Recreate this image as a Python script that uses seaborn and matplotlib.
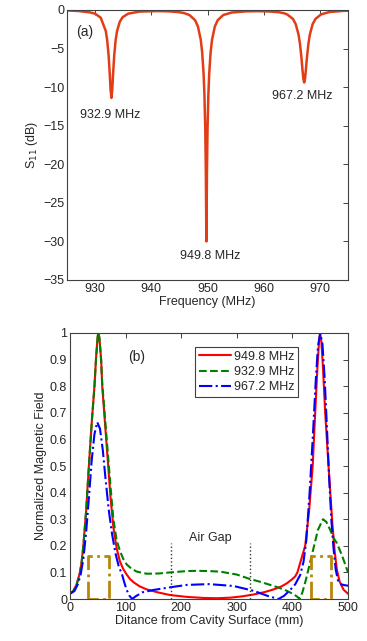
import numpy as np
import pandas as pd
import matplotlib
matplotlib.use('Agg')
import matplotlib.pyplot as plt
import seaborn as sns

# (a) S11 versus frequency
freq = [925, 927, 929, 930, 931, 931.9, 932.15, 932.4, 932.6, 932.75, 932.9,
        933.05, 933.2, 933.4, 933.65, 933.9, 934.4, 934.9, 935.9, 937.9, 941,
        943, 944.8, 945.8, 946.8, 947.8, 948.3, 948.8, 949.05, 949.3, 949.45,
        949.6, 949.7, 949.75, 949.8, 949.85, 949.9, 950.0, 950.15, 950.3,
        950.55, 950.8, 951.3, 951.8, 952.8, 954.3, 956.8, 959, 961, 962.7,
        963.7, 964.2, 965.2, 965.7, 966.2, 966.45, 966.7, 966.9, 967.05, 967.2,
        967.35, 967.5, 967.7, 967.95, 968.2, 968.7, 969.2, 970.2, 971.7, 974.2, 975]
s11 = [-0.05, -0.13, -0.3, -0.48, -1.0, -2.73, -3.92, -5.88, -8.27, -10.34, -11.4,
       -10.34, -8.27, -5.88, -3.92, -2.74, -1.5, -0.93, -0.47, -0.21, -0.14,
       -0.17, -0.27, -0.39, -0.66, -1.33, -2.15, -3.87, -5.5, -8.27, -11.0,
       -15.5, -21.0, -25.6, -30.0, -25.6, -21.0, -15.5, -11.0, -8.27,
       -5.5, -3.87, -2.15, -1.33, -0.65, -0.33, -0.18, -0.15, -0.19, -0.29,
       -0.44, -0.59, -1.16, -1.84, -3.21, -4.39, -6.09, -7.77, -8.91, -9.4,
       -8.91, -7.77, -6.09, -4.39, -3.21, -1.84, -1.16, -0.57, -0.26, -0.11, -0.09]

dip_freq = [932.9, 949.8, 967.2]
dip_labels = ['932.9 MHz', '949.8 MHz', '967.2 MHz']

# (b) normalized magnetic field versus distance
x_949 = [0, 6, 12, 18, 21, 24, 29, 34, 39, 44, 47, 50, 51, 53, 56, 58, 63, 68,
         73, 78, 84, 90, 96, 102, 108, 115, 125, 138, 160, 180, 210, 240, 265,
         288, 310, 330, 350, 366, 380, 390, 400, 405, 409, 416, 423, 430, 436.5,
         441, 445, 448, 450, 452, 455, 459, 465, 472, 476, 480, 485, 492, 500]
h_949 = [0.02, 0.03, 0.055, 0.1, 0.14, 0.2, 0.33, 0.5, 0.66, 0.8, 0.91, 0.99,
         1.0, 0.98, 0.9, 0.8, 0.66, 0.52, 0.38, 0.27, 0.19, 0.14, 0.112, 0.092,
         0.075, 0.062, 0.048, 0.036, 0.024, 0.015, 0.008, 0.004, 0.003, 0.005,
         0.01, 0.017, 0.026, 0.036, 0.047, 0.059, 0.075, 0.085, 0.1, 0.15, 0.2,
         0.33, 0.5, 0.7, 0.87, 0.97, 1.0, 0.97, 0.87, 0.7, 0.5, 0.28, 0.18,
         0.11, 0.065, 0.035, 0.02]

x_932 = [0, 6, 12, 18, 21, 24, 29, 34, 39, 44, 47, 50, 51, 53, 56, 58, 63, 68,
         73, 78, 84, 90, 96, 102, 110, 120, 138, 160, 180, 210, 228, 250, 270,
         300, 324, 345, 360, 375, 390, 400, 408, 413, 418, 424, 431, 439, 446,
         455, 461, 468, 474, 480, 489, 495, 500]
h_932 = [0.02, 0.03, 0.055, 0.1, 0.14, 0.2, 0.33, 0.5, 0.66, 0.8, 0.91, 0.99,
         1.0, 0.98, 0.9, 0.81, 0.68, 0.55, 0.42, 0.3, 0.22, 0.18, 0.15, 0.13,
         0.115, 0.103, 0.095, 0.096, 0.1, 0.105, 0.106, 0.105, 0.103, 0.092,
         0.075, 0.063, 0.053, 0.043, 0.031, 0.02, 0.01, 0.0, 0.025, 0.07, 0.13,
         0.2, 0.26, 0.3, 0.29, 0.26, 0.23, 0.21, 0.165, 0.13, 0.1]

x_967 = [0, 8, 14, 19, 24, 29, 34, 39, 44, 49, 54, 59, 64, 70, 76, 82, 88, 93,
         98, 102, 107, 112, 118, 130, 150, 180, 210, 250, 294, 330, 355, 375,
         385, 396, 405, 414, 420, 425, 431, 437, 442, 446, 450, 454, 458, 462,
         466, 470, 474, 478, 482, 488, 494, 500]
h_967 = [0.02, 0.03, 0.055, 0.09, 0.15, 0.25, 0.38, 0.52, 0.62, 0.665, 0.64,
         0.56, 0.45, 0.33, 0.24, 0.17, 0.12, 0.097, 0.06, 0.034, 0.012, 0.0,
         0.01, 0.025, 0.034, 0.044, 0.053, 0.056, 0.049, 0.031, 0.012, 0.0,
         0.012, 0.034, 0.055, 0.09, 0.14, 0.22, 0.4, 0.62, 0.82, 0.95, 1.0,
         0.96, 0.83, 0.65, 0.46, 0.3, 0.19, 0.11, 0.07, 0.055, 0.052, 0.05]

slab_left = [33, 434]
slab_right = [70, 469]
slab_height = 0.16
gap_edges = [181, 324]
gap_mark_height = 0.21

sns.set_style('white')
plt.rcParams['font.family'] = ['Liberation Sans', 'DejaVu Sans']
plt.rcParams['font.size'] = 9
plt.rcParams['axes.unicode_minus'] = True


def matlab_box(ax):
    for sp in ax.spines.values():
        sp.set_visible(True)
        sp.set_color('#404040')
        sp.set_linewidth(0.8)
    ax.tick_params(direction='in', length=3.5, width=0.7, color='#404040',
                   top=True, right=True, labelsize=9, pad=2)


fig = plt.figure(figsize=(3.67, 6.41), dpi=100)
ax1 = fig.add_axes([0.1826, 0.5632, 0.7657, 0.4212])
ax2 = fig.add_axes([0.1907, 0.0655, 0.7575, 0.415])

# 01. S11 spectrum
spec = pd.DataFrame({'freq': freq, 's11': s11})
sns.lineplot(data=spec, x='freq', y='s11', color='#e23d16', lw=1.8,
             estimator=None, sort=False, ax=ax1)
ax1.set_xlim(925, 975)
ax1.set_ylim(-35, 0)
ax1.set_xticks([930, 940, 950, 960, 970])
ax1.set_yticks(np.arange(-35, 1, 5))
ax1.set_xlabel('Frequency (MHz)', labelpad=1)
ax1.set_ylabel('S$_{11}$ (dB)', labelpad=2)
ax1.text(932.6, -13.6, dip_labels[0], ha='center', va='center')
ax1.text(950.5, -31.9, dip_labels[1], ha='center', va='center')
ax1.text(966.8, -11.2, dip_labels[2], ha='center', va='center')
ax1.text(928.2, -2.8, '(a)', ha='center', va='center', fontsize=10)
matlab_box(ax1)

# 02. Field distribution
sns.lineplot(x=x_949, y=h_949, color='#ff0000', lw=1.5, estimator=None,
             sort=False, ax=ax2, label='949.8 MHz')
sns.lineplot(x=x_932, y=h_932, color='#008000', lw=1.5, ls='--',
             estimator=None, sort=False, ax=ax2, label='932.9 MHz')
sns.lineplot(x=x_967, y=h_967, color='#0000ff', lw=1.5, ls='-.',
             estimator=None, sort=False, ax=ax2, label='967.2 MHz')

for l, r in zip(slab_left, slab_right):
    ax2.plot([l, l, r, r, l], [0, slab_height, slab_height, 0, 0],
             color='#b8860b', lw=2, ls='-.')
for g in gap_edges:
    ax2.plot([g, g], [0, gap_mark_height], color='#333333', lw=1, ls=':')

ax2.text(253, 0.23, 'Air Gap', ha='center', va='center')
ax2.text(120, 0.91, '(b)', ha='center', va='center', fontsize=10)
ax2.set_xlim(0, 500)
ax2.set_ylim(0, 1)
ax2.set_xticks([0, 100, 200, 300, 400, 500])
ax2.set_yticks(np.round(np.arange(0, 1.01, 0.1), 1))
ax2.set_yticklabels(['0', '0.1', '0.2', '0.3', '0.4', '0.5', '0.6', '0.7',
                     '0.8', '0.9', '1'])
ax2.set_xlabel('Ditance from Cavity Surface (mm)', labelpad=1)
ax2.set_ylabel('Normalized Magnetic Field', labelpad=2)
matlab_box(ax2)

handles, labels = ax2.get_legend_handles_labels()
leg = ax2.legend(handles[:3], labels[:3], loc='upper right',
                 bbox_to_anchor=(0.82, 0.947), frameon=True, fancybox=False,
                 framealpha=1, edgecolor='#404040', fontsize=9,
                 handlelength=2.6, handletextpad=0.2, borderpad=0.3,
                 labelspacing=0.25, borderaxespad=0)
leg.get_frame().set_linewidth(0.8)

fig.savefig('out.png', dpi=100)
